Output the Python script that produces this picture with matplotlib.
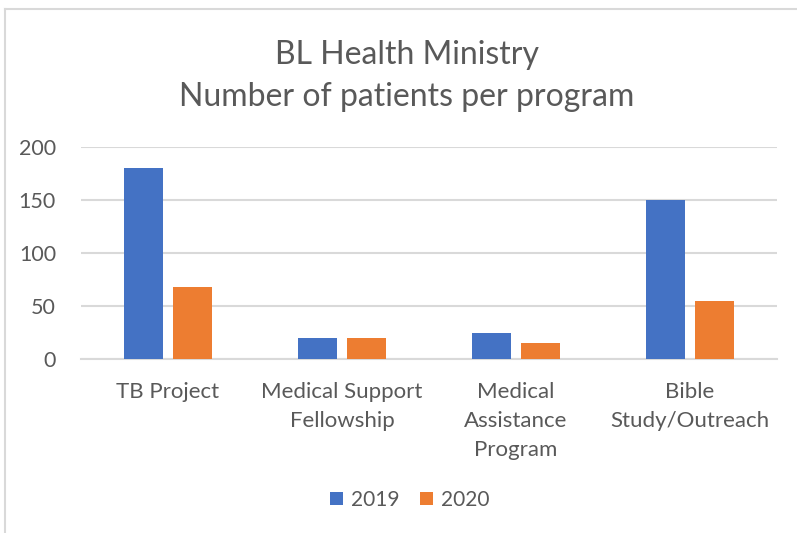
import numpy as np
import matplotlib.pyplot as plt
from matplotlib.lines import Line2D

programs = ['TB Project', 'Medical Support\nFellowship', 'Medical\nAssistance\nProgram', 'Bible\nStudy/Outreach']
vals_2019 = [180, 20, 25, 150]
vals_2020 = [68, 20, 15, 55]
years = ['2019', '2020']

plt.rcParams['font.family'] = ['Lato', 'DejaVu Sans']
txt = '#595959'
grid = '#d9d9d9'

W, H = 797, 533
fig = plt.figure(figsize=(W / 100, H / 100), dpi=100)
ax = fig.add_axes([81 / W, 1 - 359 / H, (777 - 81) / W, (359 - 147) / H])

x = np.arange(len(programs))
bw = 0.224
off = (bw + 0.057) / 2
ax.bar(x - off, vals_2019, bw, color='#4472C4', label=years[0], zorder=3)
ax.bar(x + off, vals_2020, bw, color='#ED7D31', label=years[1], zorder=3)

ax.set_xlim(-0.5, len(programs) - 0.5)
ax.set_ylim(0, 200)
ax.set_yticks([0, 50, 100, 150, 200])
ax.yaxis.grid(True, color=grid, linewidth=1.5, zorder=0)
ax.set_axisbelow(True)
for s in ['top', 'right', 'left']:
    ax.spines[s].set_visible(False)
ax.spines['bottom'].set_color(grid)
ax.spines['bottom'].set_linewidth(1.5)
ax.set_xticks(x)
ax.set_xticklabels(programs, fontsize=16, color=txt, linespacing=1.57, va='top')
ax.tick_params(axis='x', length=0, labelsize=16, labelcolor=txt, pad=16.5)
ax.tick_params(axis='y', length=0, labelsize=15.5, labelcolor=txt, pad=18)

fig.text(407 / W, 1 - 55 / H, 'BL Health Ministry', ha='center', va='center', fontsize=23, color=txt)
fig.text(407 / W, 1 - 97 / H, 'Number of patients per program', ha='center', va='center', fontsize=23, color=txt)

fig.legend(loc='center', bbox_to_anchor=(410 / W, 1 - 500 / H), ncol=2, frameon=False,
           fontsize=15, labelcolor=txt, handlelength=0.6, handleheight=0.6,
           handletextpad=0.4, columnspacing=1.0)

# chart frame (top and left edges visible)
fig.add_artist(Line2D([5 / W, 1], [1 - 9 / H, 1 - 9 / H], color='#d9d9d9', linewidth=1.5))
fig.add_artist(Line2D([5 / W, 5 / W], [0, 1 - 9 / H], color='#d9d9d9', linewidth=1.5))

fig.savefig('out.png', dpi=100)
